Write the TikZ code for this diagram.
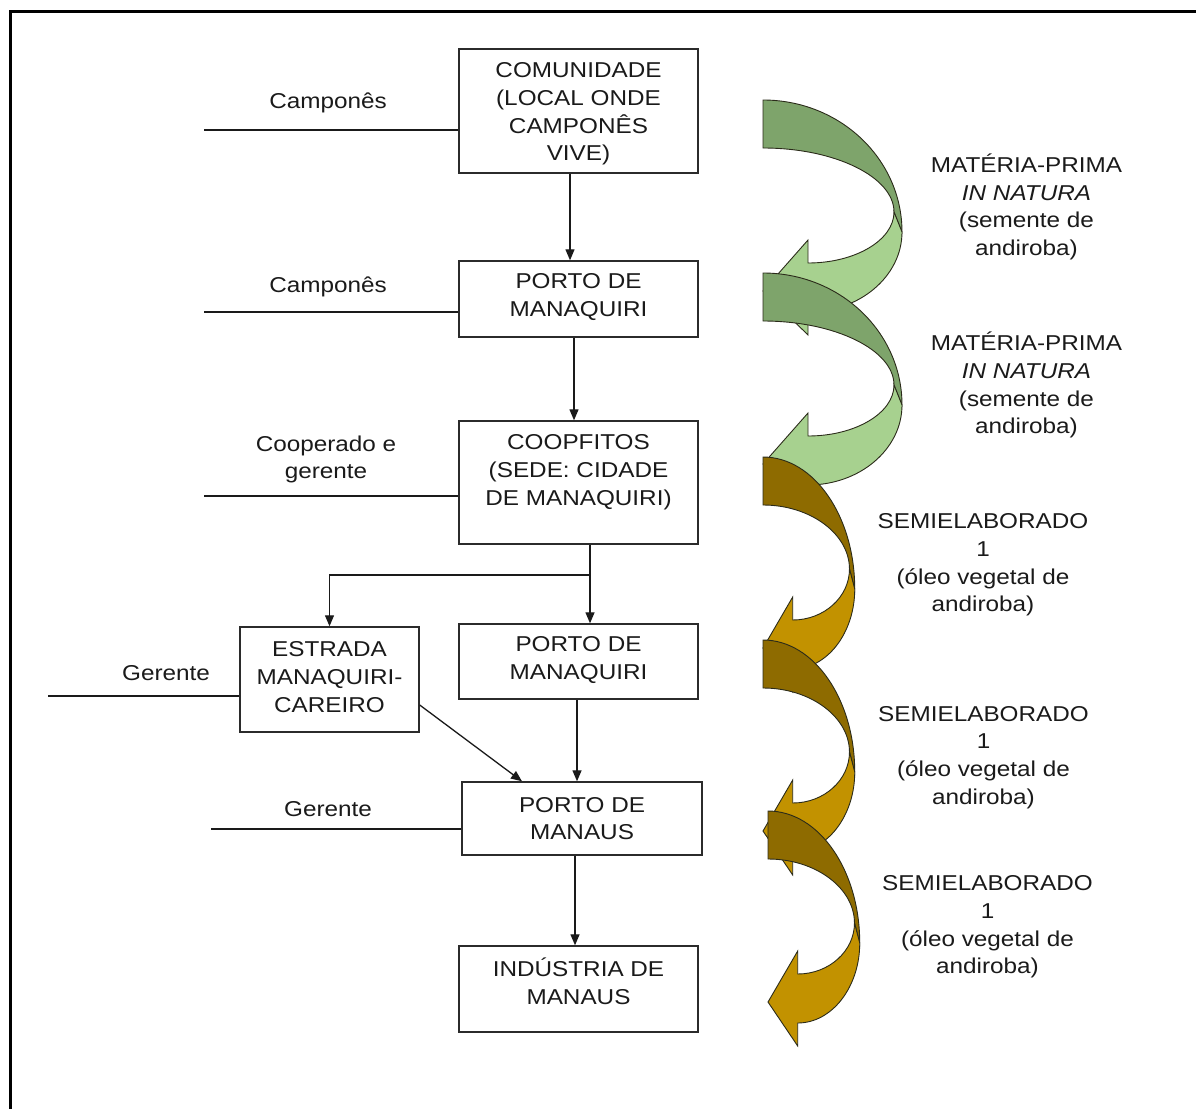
\documentclass[tikz,border=0pt]{standalone}
\usepackage{fontspec}
\setmainfont[FakeStretch=1.13]{Liberation Sans}
\usetikzlibrary{arrows.meta}

\definecolor{ink}{HTML}{1A1A1A}
\definecolor{boxline}{HTML}{2B2B2B}
\definecolor{bandline}{HTML}{2B2B1A}
\definecolor{greendark}{HTML}{7EA46B}
\definecolor{greenlight}{HTML}{A7D18F}
\definecolor{browndark}{HTML}{8E6B00}
\definecolor{brownlight}{HTML}{C29200}

% Twisted ribbon arrow: back band (dark) curling to the right, front band (light) ending in a left-pointing head.
% #1,#2 = top-left corner, #3 = horizontal scale, #4 = back colour, #5 = front colour
\newcommand{\bandarrow}[5]{%
  \begin{scope}[shift={(#1,#2)},xscale=#3]
    \filldraw[fill=#4, draw=bandline, line width=0.9pt]
      (0,0) .. controls (77,0) and (139,59) .. (139,132)
      -- (131,112) .. controls (131,77) and (72,48) .. (0,48) -- cycle;
    \filldraw[fill=#5, draw=bandline, line width=0.9pt]
      (131,112) .. controls (131,140) and (92.5,163) .. (45,163)
      -- (45,140) -- (0,191) -- (45,235) -- (45,212)
      .. controls (97,212) and (139,176) .. (139,132) -- cycle;
  \end{scope}}

\begin{document}
\begin{tikzpicture}[x=1pt,y=-1pt,
  box/.style={draw=boxline, line width=1.4pt, fill=white, inner sep=0pt},
  txt/.style={align=center, inner sep=0pt, text=ink, font=\fontsize{21.5}{27.8}\selectfont},
  link/.style={line width=1.3pt, draw=ink, -{Triangle[length=11pt,width=9pt]}},
  tie/.style={line width=1.3pt, draw=ink}]

\useasboundingbox (0,0) rectangle (1196,1108);

% outer frame (top and left edges only)
\draw[line width=3.5pt, line join=miter] (10.3,1110) -- (10.3,11.7) -- (1198,11.7);

% ---- chain of places ----
\node[box, minimum width=239, minimum height=124] (com) at (578.5,111) {};
\node[txt] (comT) at (578.5,114) {COMUNIDADE\\(LOCAL ONDE\\CAMPONÊS\\VIVE)};

\node[box, minimum width=239, minimum height=76] (pm1) at (578.5,299) {};
\node[txt] (pm1T) at (578.5,297) {PORTO DE\\MANAQUIRI};

\node[box, minimum width=239, minimum height=123] (coop) at (578.5,482.5) {};
\node[txt] (coopT) at (578.5,472) {COOPFITOS\\(SEDE: CIDADE\\DE MANAQUIRI)};

\node[box, minimum width=179, minimum height=105] (estr) at (329.5,679.5) {};
\node[txt] (estrT) at (329.5,677) {ESTRADA\\MANAQUIRI-\\CAREIRO};

\node[box, minimum width=239, minimum height=75] (pm2) at (578.5,661.5) {};
\node[txt] (pm2T) at (578.5,660) {PORTO DE\\MANAQUIRI};

\node[box, minimum width=240, minimum height=73] (pman) at (582,818.5) {};
\node[txt] (pmanT) at (582,818.5) {PORTO DE\\MANAUS};

\node[box, minimum width=239, minimum height=86] (ind) at (578.5,989) {};
\node[txt] (indT) at (578.5,981) {INDÚSTRIA DE\\MANAUS};

% ---- flow connectors ----
\draw[link] ([xshift=-8.5pt]com.south) -- ([xshift=-8.5pt]pm1.north);
\draw[link] ([xshift=-4.5pt]pm1.south) -- ([xshift=-4.5pt]coop.north);
\coordinate (split) at (590,575);
\draw[tie] ([xshift=11.5pt]coop.south) -- (split);
\draw[link] (split) -- ([xshift=11.5pt]pm2.north);
\draw[link] (split) -- (split -| estr.north) -- (estr.north);
\draw[link] ([xshift=-1.5pt]pm2.south) -- ([xshift=-5pt]pman.north);
\draw[link] ([yshift=-25.5pt]estr.east) -- ([xshift=-60pt]pman.north);
\draw[link] ([xshift=-7pt]pman.south) -- ([xshift=-3.5pt]ind.north);

% ---- actors on the left ----
\coordinate (f1) at (204,130);
\draw[tie] (f1) -- (f1 -| com.west);
\node[txt] (a1) at (328,103) {Camponês};

\coordinate (f2) at (204,312);
\draw[tie] (f2) -- (f2 -| pm1.west);
\node[txt] (a2) at (328,287) {Camponês};

\coordinate (f3) at (204,496);
\draw[tie] (f3) -- (f3 -| coop.west);
\node[txt] (a3) at (326,459.5) {Cooperado e\\gerente};

\coordinate (f4) at (48,696);
\draw[tie] (f4) -- (f4 -| estr.west);
\node[txt] (a4) at (166,673) {Gerente};

\coordinate (f5) at (211,829);
\draw[tie] (f5) -- (f5 -| pman.west);
\node[txt] (a5) at (328,809) {Gerente};

% ---- product ribbons on the right ----
\bandarrow{763}{100}{1}{greendark}{greenlight}
\bandarrow{763}{273}{1}{greendark}{greenlight}
\bandarrow{763}{457}{0.66}{browndark}{brownlight}
\bandarrow{763}{640}{0.66}{browndark}{brownlight}
\bandarrow{768}{811}{0.66}{browndark}{brownlight}

\node[txt] (p1) at (1026.5,207) {MATÉRIA-PRIMA\\\textit{IN NATURA}\\(semente de\\andiroba)};
\node[txt] (p2) at (1026.5,385) {MATÉRIA-PRIMA\\\textit{IN NATURA}\\(semente de\\andiroba)};
\node[txt] (p3) at (983,565) {SEMIELABORADO\\1\\(óleo vegetal de\\andiroba)};
\node[txt] (p4) at (983.5,757.5) {SEMIELABORADO\\1\\(óleo vegetal de\\andiroba)};
\node[txt] (p5) at (987.5,927) {SEMIELABORADO\\1\\(óleo vegetal de\\andiroba)};

\end{tikzpicture}
\end{document}
